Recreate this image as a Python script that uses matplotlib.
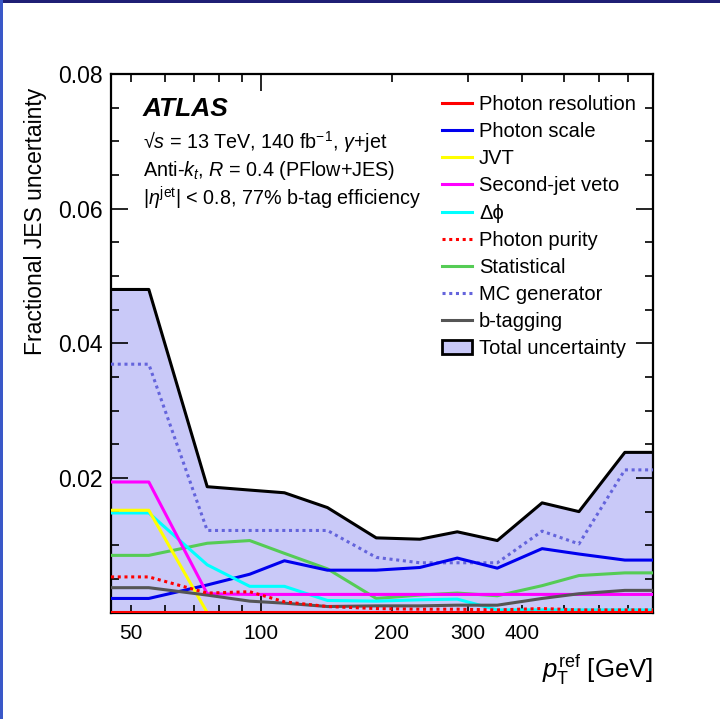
import numpy as np
import matplotlib
matplotlib.use("Agg")
import matplotlib.pyplot as plt
from matplotlib.patches import Patch, Rectangle
from matplotlib.lines import Line2D
from matplotlib.ticker import FixedLocator, MultipleLocator, FuncFormatter

plt.rcParams['font.family'] = ['Liberation Sans', 'DejaVu Sans']
plt.rcParams['mathtext.fontset'] = 'custom'
plt.rcParams['mathtext.rm'] = 'Liberation Sans'
plt.rcParams['mathtext.it'] = 'Liberation Sans:italic'
plt.rcParams['mathtext.bf'] = 'Liberation Sans:bold'

# ---- data ----
pt = [55, 75, 94, 113, 142, 184, 232, 283, 350, 444, 540, 689]
xmin, xmax = 45, 800

photon_resolution = [0.00015] * 12
photon_scale = [0.0021, 0.0041, 0.0057, 0.0077, 0.0063, 0.0063, 0.0067, 0.0081, 0.0066, 0.0095, 0.0087, 0.0078]
jvt = [0.0152, 0.0, 0.0, 0.0, 0.0, 0.0, 0.0, 0.0, 0.0, 0.0, 0.0, 0.0]
second_jet_veto = [0.0194, 0.0028, 0.0027, 0.0027, 0.0027, 0.0027, 0.0027, 0.0027, 0.0027, 0.0027, 0.0027, 0.0027]
delta_phi = [0.0148, 0.0071, 0.0039, 0.0039, 0.0018, 0.0017, 0.0019, 0.0020, 0.0004, 0.0004, 0.0004, 0.0004]
photon_purity = [0.0053, 0.0029, 0.0031, 0.0016, 0.0009, 0.0006, 0.0005, 0.0005, 0.0004, 0.0006, 0.0004, 0.0004]
statistical = [0.0085, 0.0103, 0.0107, 0.0088, 0.0065, 0.0021, 0.0026, 0.0029, 0.0025, 0.0040, 0.0055, 0.0059]
mc_generator = [0.0369, 0.0122, 0.0122, 0.0122, 0.0122, 0.0082, 0.0074, 0.0074, 0.0074, 0.0121, 0.0102, 0.0212]
b_tagging = [0.0037, 0.0026, 0.0017, 0.0014, 0.0009, 0.0010, 0.0010, 0.0011, 0.0011, 0.0021, 0.0028, 0.0033]
total = [0.0480, 0.0187, 0.0182, 0.0178, 0.0156, 0.0111, 0.0109, 0.0120, 0.0107, 0.0163, 0.0150, 0.0238]

x_labels = {50: '50', 100: '100', 200: '200', 300: '300', 400: '400'}


def ext(vals):
    # flat continuation out to the axis edges
    return [vals[0]] + list(vals) + [vals[-1]]


x = [xmin] + pt + [xmax]

fig = plt.figure(figsize=(7.2, 7.19), dpi=100)
ax = fig.add_axes([0.1542, 0.148, 0.7527, 0.749])

fill_col = '#c9c9f8'
ax.fill_between(x, 0, ext(total), color=fill_col, lw=0, zorder=1)
ax.plot(x, ext(total), color='black', lw=2.2, zorder=5)

lw = 2.2
ax.plot(x, ext(mc_generator), color='#6464dc', lw=lw, ls=(0, (1, 1.2)), zorder=3)
ax.plot(x, ext(statistical), color='#55cc55', lw=lw, zorder=3)
ax.plot(x, ext(photon_scale), color='#0000ee', lw=lw, zorder=3)
ax.plot(x, ext(delta_phi), color='#00ffff', lw=lw, zorder=3)
ax.plot(x, ext(second_jet_veto), color='#ff00ff', lw=lw, zorder=3)
ax.plot(x, ext(jvt), color='#ffff00', lw=lw, zorder=3)
ax.plot(x, ext(b_tagging), color='#555555', lw=lw, zorder=3)
ax.plot(x, ext(photon_purity), color='#ff0000', lw=lw, ls=(0, (1, 1.2)), zorder=4)
ax.plot(x, ext(photon_resolution), color='#ff0000', lw=lw, zorder=4)

ax.set_xscale('log')
ax.set_xlim(xmin, xmax)
ax.set_ylim(0, 0.08)

ax.xaxis.set_major_locator(FixedLocator([100]))
ax.xaxis.set_minor_locator(FixedLocator([50, 60, 70, 80, 90, 200, 300, 400, 500, 600, 700, 800]))
fmt = FuncFormatter(lambda v, p: x_labels.get(int(round(v)), ''))
ax.xaxis.set_major_formatter(fmt)
ax.xaxis.set_minor_formatter(fmt)
ax.yaxis.set_major_locator(FixedLocator([0.02, 0.04, 0.06, 0.08]))
ax.yaxis.set_minor_locator(MultipleLocator(0.005))
ax.yaxis.set_major_formatter(FuncFormatter(lambda v, p: '%.2f' % v))

ax.tick_params(which='both', direction='in', top=True, right=True, width=1.2, labelsize=15)
ax.tick_params(axis='y', which='both', labelsize=16.5)
ax.tick_params(which='major', length=12)
ax.tick_params(which='minor', length=6)
ax.tick_params(axis='x', which='both', pad=8)
ax.tick_params(axis='y', which='both', pad=6)
for s in ax.spines.values():
    s.set_linewidth(1.6)

ax.set_ylabel('Fractional JES uncertainty', fontsize=16.5, loc='top')
ax.yaxis.set_label_coords(-0.118, 0.975)
ax.set_xlabel(r'$p_{\rm T}^{\rm ref}$ [GeV]', fontsize=18.5, loc='right')
ax.xaxis.set_label_coords(1.0, -0.075)

ax.text(0.059, 0.935, 'ATLAS', transform=ax.transAxes, fontsize=19,
        fontweight='bold', style='italic', va='center')
ax.text(0.059, 0.873, '√$s$ = 13 TeV, 140 fb$^{-1}$, $\\gamma$+jet',
        transform=ax.transAxes, fontsize=14.2, va='center')
ax.text(0.059, 0.821, r'Anti-$k_{t}$, $R$ = 0.4 (PFlow+JES)',
        transform=ax.transAxes, fontsize=14.2, va='center')
ax.text(0.059, 0.769, r'$|\eta^{\rm jet}|$ < 0.8, 77% b-tag efficiency',
        transform=ax.transAxes, fontsize=14.2, va='center')

handles = [
    Line2D([], [], color='#ff0000', lw=lw),
    Line2D([], [], color='#0000ee', lw=lw),
    Line2D([], [], color='#ffff00', lw=lw),
    Line2D([], [], color='#ff00ff', lw=lw),
    Line2D([], [], color='#00ffff', lw=lw),
    Line2D([], [], color='#ff0000', lw=lw, ls=(0, (1, 1.2))),
    Line2D([], [], color='#55cc55', lw=lw),
    Line2D([], [], color='#6464dc', lw=lw, ls=(0, (1, 1.2))),
    Line2D([], [], color='#555555', lw=lw),
    Patch(facecolor=fill_col, edgecolor='black', lw=2),
]
labels = ['Photon resolution', 'Photon scale', 'JVT', 'Second-jet veto',
          'Δϕ', 'Photon purity', 'Statistical', 'MC generator',
          'b-tagging', 'Total uncertainty']
ax.legend(handles, labels, loc='upper left', bbox_to_anchor=(0.6105, 0.9605),
          frameon=False, fontsize=14.5, handlelength=1.5, handletextpad=0.35,
          labelspacing=0.4, borderpad=0, borderaxespad=0)

# frame strips at the picture edges
fig.add_artist(Rectangle((0, 1 - 3 / 719), 1, 3 / 719, transform=fig.transFigure,
                         color='#1f1f75', lw=0))
fig.add_artist(Rectangle((0, 0), 2.5 / 720, 1, transform=fig.transFigure,
                         color='#3a58c8', lw=0))

fig.savefig('out.png', dpi=100)
